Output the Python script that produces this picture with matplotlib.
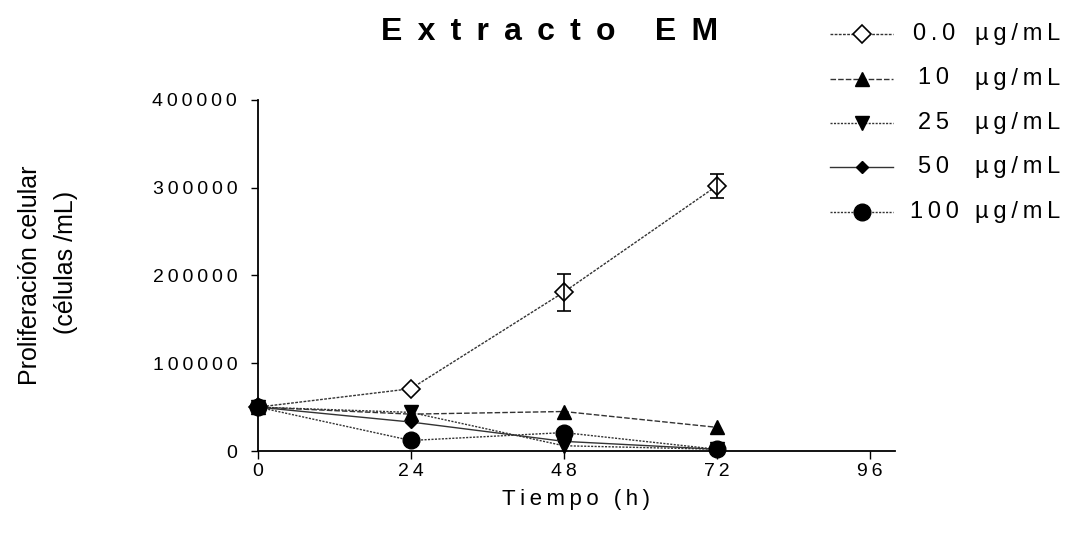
import matplotlib
matplotlib.use("Agg")
import matplotlib.pyplot as plt
from matplotlib.lines import Line2D

plt.rcParams["font.family"] = ["Liberation Sans", "DejaVu Sans"]

# Tiempo de cultivo (h) y recuento celular por concentración del extracto
tiempo = [0, 24, 48, 72]
conc_labels = ["0.0", "10", "25", "50", "100"]
cel_00 = [50000, 71000, 181000, 302000]
cel_10 = [50000, 42000, 45000, 27000]
cel_25 = [50000, 44000, 6000, 2000]
cel_50 = [50000, 33000, 11000, 2000]
cel_100 = [50000, 12000, 21000, 2000]
err_00 = [0, 0, 21000, 14000]

x_ticks = [0, 24, 48, 72, 96]
y_ticks = [0, 100000, 200000, 300000, 400000]

TS = "\u2009"  # espacio fino para separar letras


def espaciado(txt):
    return TS.join(txt)


series = [cel_00, cel_10, cel_25, cel_50, cel_100]
styles = [
    dict(marker="D", mfc="white", mec="black", ms=9, mew=1.2, ls=(0, (2, 1))),
    dict(marker="^", mfc="black", mec="black", ms=10, ls=(0, (4, 1.5))),
    dict(marker="v", mfc="black", mec="black", ms=10, ls=(0, (1.5, 1))),
    dict(marker="D", mfc="black", mec="black", ms=6, ls="-"),
    dict(marker="o", mfc="black", mec="black", ms=12, ls=(0, (1.5, 1))),
]
line_kw = dict(color="#333333", lw=1.0, clip_on=False)

fig = plt.figure(figsize=(10.72, 5.38), dpi=100)
ax = fig.add_axes([258 / 1072, 1 - 451 / 538, (895 - 258) / 1072, (451 - 100) / 538])

for vals, st in zip(series, styles):
    ax.plot(tiempo, vals, zorder=3, **line_kw, **st)

ax.errorbar(tiempo[2:], cel_00[2:], yerr=err_00[2:], fmt="none", ecolor="black",
            elinewidth=1.2, capsize=5, capthick=1.2, zorder=4, clip_on=False)

ax.set_xlim(0, 100)
ax.set_ylim(0, 400000)
ax.set_xticks(x_ticks)
ax.set_xticklabels([espaciado(str(t)) for t in x_ticks])
ax.set_yticks(y_ticks)
ax.set_yticklabels([espaciado(str(t)) for t in y_ticks])
ax.spines["top"].set_visible(False)
ax.spines["right"].set_visible(False)
for s in ("left", "bottom"):
    ax.spines[s].set_linewidth(1.3)
ax.tick_params(axis="y", direction="out", length=5, width=1, pad=10, labelsize=14)
ax.tick_params(axis="x", direction="out", length=6, width=1, pad=3, labelsize=14)

ax.set_xlabel(espaciado("Tiempo (h)"), fontsize=16, labelpad=6)
fig.text(30 / 1072, 1 - 275 / 538, "Proliferación celular", rotation=90,
         ha="center", va="center", fontsize=18)
fig.text(66 / 1072, 1 - 262 / 538, "(células /mL)", rotation=90,
         ha="center", va="center", fontsize=18)

fig.text(550 / 1072, 1 - 32 / 538, (" " + TS).join("Extracto EM"), ha="center",
         va="center", fontsize=23, fontweight="bold")

# leyenda dibujada a mano para alinear las unidades
for i, (lab, st) in enumerate(zip(conc_labels, styles)):
    y = 1 - (34 + 44.5 * i) / 538
    fig.add_artist(Line2D([830 / 1072, 893 / 1072], [y, y], transform=fig.transFigure,
                          color="#333333", lw=1.0, ls=st["ls"]))
    fig.add_artist(Line2D([862 / 1072], [y], transform=fig.transFigure, ls="none",
                          marker=st["marker"], mfc=st["mfc"], mec=st["mec"],
                          ms=st["ms"], mew=st.get("mew", 1.0)))
    fig.text(934 / 1072, y, espaciado(lab), ha="center", va="center", fontsize=17)
    fig.text(975 / 1072, y, espaciado("µg/mL"), ha="left", va="center", fontsize=17)

fig.savefig("out.png", dpi=100)
